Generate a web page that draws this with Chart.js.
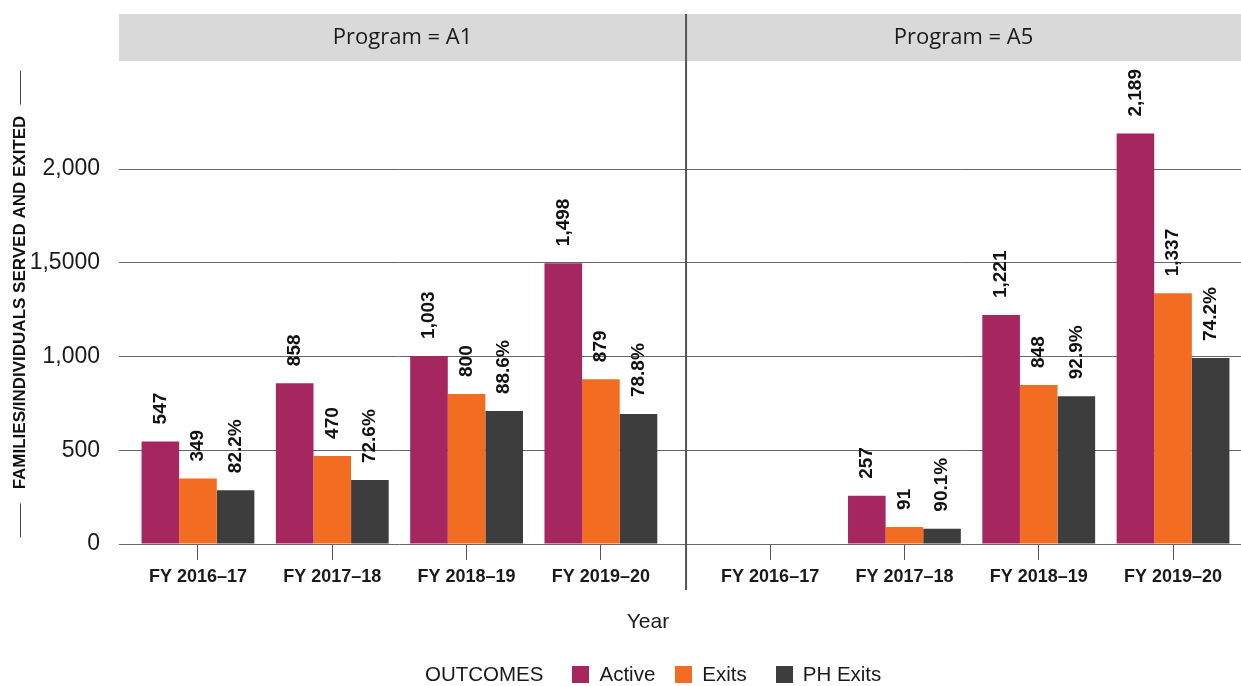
<!DOCTYPE html>
<html>
<head>
<meta charset="utf-8">
<script src="https://cdn.jsdelivr.net/npm/chart.js@4.4.1/dist/chart.umd.min.js"></script>
<style>
  body { margin: 0; background: #fff; }
  #wrap { position: relative; width: 1241px; height: 686px; overflow: hidden; }
  #chart { position: absolute; left: 0; top: 0; }
  .txt { position: absolute; font-family: "Liberation Sans", Arial, sans-serif; color: #1a1a1a; white-space: nowrap; }
  #xtitle { left: 648px; top: 609px; transform: translateX(-50%); font-size: 21px; }
  #legend { left: 425px; top: 662px; font-size: 20.5px; display: flex; align-items: center; }
  #legend .box { display: inline-block; width: 17px; height: 17px; margin-right: 10px; }
  #legend .item { display: flex; align-items: center; }
</style>
</head>
<body>
<div id="wrap">
  <canvas id="chart" width="1241" height="686"></canvas>
  <div id="xtitle" class="txt">Year</div>
  <div id="legend" class="txt"></div>
</div>
<script>
// facets and categories
const programs = ['A1', 'A5'];
const years = ['FY 2016–17', 'FY 2017–18', 'FY 2018–19', 'FY 2019–20'];

// values, A1 years then A5 years
const active  = [547, 858, 1003, 1498, 0, 257, 1221, 2189];
const exits   = [349, 470, 800, 879, 0, 91, 848, 1337];
const phExits = [287, 341, 709, 693, 0, 82, 788, 992];
const phPct   = ['82.2%', '72.6%', '88.6%', '78.8%', '', '90.1%', '92.9%', '74.2%'];

// y axis ticks (the "1,5000" is as printed in the original)
const yTicks = [0, 500, 1000, 1500, 2000];
const yTickLabels = ['0', '500', '1,000', '1,5000', '2,000'];

const seriesNames = ['Active', 'Exits', 'PH Exits'];
const colors = ['#a6265f', '#f26d21', '#3d3d3d'];

// x positions: 4 per panel, small extra gap between the panels
const panelGap = 0.26;
const xPos = [];
for (let p = 0; p < programs.length; p++) {
    for (let i = 0; i < years.length; i++) {
        xPos.push(p * (years.length + panelGap) + i + 1);
    }
}
const divideAt = years.length + 0.634;

function pts(vals) {
    return vals.map(function (v, i) { return { x: xPos[i], y: v }; });
}

const facetPlugin = {
    id: 'facets',
    beforeDraw(chart) {
        const ctx = chart.ctx;
        const area = chart.chartArea;
        const mid = chart.scales.x.getPixelForValue(divideAt);
        const bounds = [[area.left, mid], [mid, area.right]];
        ctx.save();
        bounds.forEach(function (b, p) {
            ctx.fillStyle = '#d9d9d9';
            ctx.fillRect(b[0], 14, b[1] - b[0], area.top - 14);
            ctx.fillStyle = '#1a1a1a';
            ctx.font = '22px "Open Sans", sans-serif';
            ctx.textAlign = 'center';
            ctx.textBaseline = 'middle';
            ctx.fillText('Program = ' + programs[p], (b[0] + b[1]) / 2, 38);
        });
        ctx.restore();
    },
    afterDraw(chart) {
        const ctx = chart.ctx;
        const area = chart.chartArea;
        const mid = chart.scales.x.getPixelForValue(divideAt);
        ctx.save();
        ctx.strokeStyle = '#555';
        ctx.lineWidth = 2;
        ctx.beginPath();
        ctx.moveTo(mid, 14);
        ctx.lineTo(mid, area.bottom + 46);
        ctx.stroke();

        // little rules either side of the y title
        const cy = (area.top + area.bottom) / 2;
        ctx.font = 'bold 17px "Liberation Sans", Arial, sans-serif';
        const w = ctx.measureText(chart.options.scales.y.title.text).width;
        ctx.strokeStyle = '#444';
        ctx.lineWidth = 1;
        ctx.beginPath();
        ctx.moveTo(20.5, cy - w / 2 - 11);
        ctx.lineTo(20.5, cy - w / 2 - 45);
        ctx.moveTo(20.5, cy + w / 2 + 14);
        ctx.lineTo(20.5, cy + w / 2 + 48);
        ctx.stroke();
        ctx.restore();
    },
    afterDatasetsDraw(chart) {
        const ctx = chart.ctx;
        ctx.save();
        ctx.fillStyle = '#111';
        ctx.font = 'bold 19px "Liberation Sans", Arial, sans-serif';
        ctx.textAlign = 'left';
        ctx.textBaseline = 'middle';
        chart.data.datasets.forEach(function (ds, d) {
            chart.getDatasetMeta(d).data.forEach(function (bar, i) {
                const v = ds.data[i].y;
                if (!v) return;
                const txt = d === 2 ? phPct[i] : v.toLocaleString('en-US');
                ctx.save();
                ctx.translate(bar.x, bar.y - 17);
                ctx.rotate(-Math.PI / 2);
                ctx.fillText(txt, 0, 0);
                ctx.restore();
            });
        });
        ctx.restore();
    }
};

new Chart(document.getElementById('chart'), {
    type: 'bar',
    data: {
        datasets: [
            { label: seriesNames[0], data: pts(active), backgroundColor: colors[0] },
            { label: seriesNames[1], data: pts(exits), backgroundColor: colors[1] },
            { label: seriesNames[2], data: pts(phExits), backgroundColor: colors[2] },
        ],
    },
    options: {
        responsive: false,
        animation: false,
        layout: { padding: { top: 61, right: 0, bottom: 0, left: 0 } },
        datasets: { bar: { categoryPercentage: 0.84, barPercentage: 1.0 } },
        plugins: {
            legend: { display: false },
            tooltip: { enabled: false },
        },
        scales: {
            x: {
                type: 'linear',
                offset: false,
                min: 0.412,
                max: xPos[xPos.length - 1] + 0.506,
                afterBuildTicks: function (s) {
                    s.ticks = xPos.map(function (v) { return { value: v }; });
                },
                afterFit: function (s) { s.height = 142; },
                grid: { offset: false, drawOnChartArea: false, drawTicks: true, tickLength: 16, color: '#555' },
                border: { display: false },
                ticks: {
                    autoSkip: false,
                    maxRotation: 0,
                    padding: 6,
                    color: '#1a1a1a',
                    font: { family: '"Liberation Sans", Arial, sans-serif', size: 18, weight: 'bold' },
                    callback: function (value, index) { return years[index % years.length]; },
                },
            },
            y: {
                min: 0,
                max: 2576,
                afterBuildTicks: function (s) {
                    s.ticks = yTicks.map(function (v) { return { value: v }; });
                },
                afterFit: function (s) { s.width = 119; },
                grid: { color: '#666', drawTicks: false },
                border: { display: false },
                ticks: {
                    padding: 19,
                    color: '#1a1a1a',
                    font: { family: '"Liberation Sans", Arial, sans-serif', size: 23 },
                    callback: function (value, index) { return yTickLabels[index]; },
                },
                title: {
                    display: true,
                    text: 'FAMILIES/INDIVIDUALS SERVED AND EXITED',
                    color: '#111',
                    padding: { top: 10, bottom: 0 },
                    font: { family: '"Liberation Sans", Arial, sans-serif', size: 17, weight: 'bold' },
                },
            },
        },
    },
    plugins: [facetPlugin],
});

// legend
const gaps = [20, 29, 0];
const legend = document.getElementById('legend');
let html = '<span style="margin-right:29px">OUTCOMES</span>';
seriesNames.forEach(function (n, i) {
    html += '<span class="item" style="margin-right:' + gaps[i] + 'px"><span class="box" style="background:' + colors[i] + '"></span>' + n + '</span>';
});
legend.innerHTML = html;
</script>
</body>
</html>
